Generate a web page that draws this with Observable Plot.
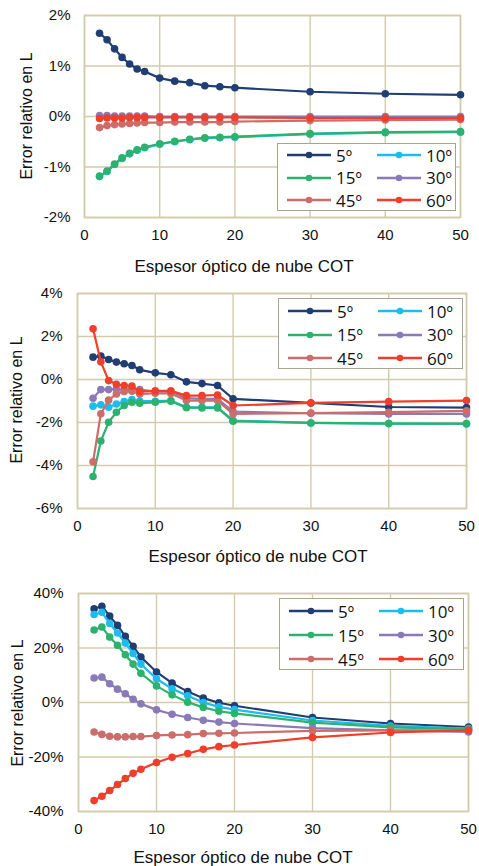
<!DOCTYPE html>
<html>
<head>
<meta charset="utf-8">
<script src="https://cdn.jsdelivr.net/npm/d3@7"></script>
<script src="https://cdn.jsdelivr.net/npm/@observablehq/plot@0.6"></script>
<style>
  html, body { margin: 0; padding: 0; background: #fff; }
  #chart { position: relative; width: 479px; height: 866px; overflow: hidden; font-family: "Liberation Sans", Arial, sans-serif; }
  .panel { position: relative; width: 479px; }
  .panel svg { display: block; }
  .xtitle, .ytitle { position: absolute; color: #111; white-space: nowrap; }
  .xtitle { font-size: 17px; transform: translate(-50%, -50%); }
  .ytitle { font-size: 16px; transform: translate(-50%, -50%) rotate(-90deg); }
  .legend { position: absolute; background: #fff; border: 1.5px solid #aaa48a; box-sizing: border-box; }
  .legend .item { position: absolute; display: flex; align-items: center; font-family: "Open Sans", "Noto Sans", sans-serif; font-size: 17px; color: #111; }
  .legend .item svg { margin-right: 4px; }
</style>
</head>
<body>
<div id="chart"></div>
<script>
// Cloud optical thickness (COT) sampled in every panel
const cot = [2, 3, 4, 5, 6, 7, 8, 10, 12, 14, 16, 18, 20, 30, 40, 50];

// Solar zenith angles and their series colours
const angles = ["5º", "10º", "15º", "30º", "45º", "60º"];
const colors = ["#203e73", "#1cbcef", "#2db26e", "#8a7ab8", "#cc6d69", "#ee3f2a"];

// x-axis ticks
const xTicks = [0, 10, 20, 30, 40, 50];

// Panel 1: relative error in L (%)
const top5  = [1.65, 1.52, 1.34, 1.17, 1.04, 0.94, 0.89, 0.76, 0.70, 0.67, 0.61, 0.59, 0.57, 0.49, 0.45, 0.43];
const top10 = [-1.19, -1.09, -0.95, -0.83, -0.74, -0.67, -0.62, -0.55, -0.50, -0.46, -0.43, -0.42, -0.41, -0.35, -0.32, -0.31];
const top15 = [-1.18, -1.08, -0.94, -0.82, -0.73, -0.66, -0.61, -0.54, -0.49, -0.45, -0.42, -0.41, -0.40, -0.34, -0.31, -0.30];
const top30 = [0.02, 0.02, 0.01, 0.01, 0.01, 0.01, 0.01, 0.00, 0.00, 0.00, 0.00, 0.00, 0.00, 0.00, 0.00, 0.00];
const top45 = [-0.22, -0.18, -0.16, -0.15, -0.14, -0.13, -0.12, -0.12, -0.11, -0.11, -0.11, -0.11, -0.10, -0.08, -0.07, -0.06];
const top60 = [-0.04, -0.03, -0.03, -0.03, -0.02, -0.02, -0.02, -0.02, -0.02, -0.02, -0.02, -0.02, -0.02, -0.03, -0.03, -0.03];
const topTicks = [-2, -1, 0, 1, 2];

// Panel 2: relative error in L (%)
const mid5  = [1.04, 1.09, 0.93, 0.81, 0.73, 0.65, 0.45, 0.31, 0.22, -0.11, -0.19, -0.28, -0.90, -1.09, -1.28, -1.31];
const mid10 = [-1.24, -1.18, -1.29, -1.14, -1.03, -0.93, -1.00, -1.01, -0.98, -1.29, -1.29, -1.29, -1.91, -2.02, -2.05, -2.07];
const mid15 = [-4.51, -2.86, -1.99, -1.52, -1.21, -1.06, -1.10, -1.06, -1.01, -1.31, -1.32, -1.32, -1.94, -2.02, -2.05, -2.05];
const mid30 = [-0.87, -0.47, -0.47, -0.44, -0.48, -0.44, -0.47, -0.56, -0.56, -0.87, -0.90, -0.90, -1.49, -1.57, -1.60, -1.60];
const mid45 = [-3.83, -1.59, -0.96, -0.67, -0.56, -0.55, -0.68, -0.64, -0.65, -0.98, -0.98, -0.98, -1.60, -1.56, -1.52, -1.46];
const mid60 = [2.36, 0.82, -0.05, -0.22, -0.28, -0.31, -0.56, -0.53, -0.53, -0.75, -0.75, -0.72, -1.21, -1.09, -1.03, -0.98];
const midTicks = [-6, -4, -2, 0, 2, 4];

// Panel 3: relative error in L (%)
const low5  = [34.4, 35.3, 31.7, 28.3, 24.3, 20.6, 16.7, 11.2, 7.1, 4.0, 1.6, -0.1, -1.2, -5.5, -7.7, -9.0];
const low10 = [32.3, 33.1, 29.0, 25.5, 21.8, 18.0, 14.1, 8.7, 5.0, 2.5, 0.0, -1.6, -2.6, -6.6, -8.6, -9.6];
const low15 = [26.6, 27.7, 24.0, 21.0, 17.5, 14.1, 10.7, 6.1, 2.8, 0.1, -1.8, -3.2, -4.0, -7.4, -9.1, -9.8];
const low30 = [9.0, 9.3, 6.9, 4.9, 3.2, 1.2, -0.5, -2.7, -4.3, -5.5, -6.5, -7.2, -7.7, -9.4, -10.2, -10.8];
const low45 = [-10.8, -11.7, -12.4, -12.6, -12.6, -12.5, -12.5, -12.1, -11.9, -11.8, -11.4, -11.3, -11.2, -10.4, -10.2, -10.2];
const low60 = [-36.0, -34.4, -32.3, -30.1, -27.9, -26.0, -24.5, -22.0, -20.1, -18.7, -17.2, -16.2, -15.6, -12.8, -11.0, -10.2];
const lowTicks = [-40, -20, 0, 20, 40];

const xTitle = "Espesor óptico de nube COT";
const yTitle = "Error relativo en L";

const GRID = "#d3cbaa";

function rowsOf(seriesList) {
  return seriesList.flatMap((vals, i) => vals.map((v, j) => ({ cot: cot[j], err: v, angle: angles[i] })));
}

function makePanel(cfg) {
  const rows = rowsOf(cfg.series);
  // each series draws its line and markers before the next one, so later series sit on top
  const seriesMarks = angles.flatMap(a => {
    const sub = rows.filter(r => r.angle === a);
    return [
      Plot.line(sub, { x: "cot", y: "err", stroke: "angle", strokeWidth: 2.2 }),
      Plot.dot(sub, { x: "cot", y: "err", fill: "angle", r: 3.8 })
    ];
  });
  const svg = Plot.plot({
    width: 479,
    height: cfg.height,
    marginTop: cfg.m[0], marginRight: cfg.m[1], marginBottom: cfg.m[2], marginLeft: cfg.m[3],
    x: { domain: [0, 50] },
    y: { domain: [cfg.yTicks[0], cfg.yTicks[cfg.yTicks.length - 1]] },
    color: { domain: angles, range: colors },
    style: { fontFamily: "Liberation Sans, Arial, sans-serif", fontSize: "15px", color: "#111", background: "transparent", overflow: "visible" },
    marks: [
      Plot.gridX(xTicks, { stroke: GRID, strokeOpacity: 1, strokeWidth: 1.4 }),
      Plot.gridY(cfg.yTicks, { stroke: GRID, strokeOpacity: 1, strokeWidth: 1.4 }),
      Plot.frame({ stroke: GRID, strokeWidth: 1.6 }),
      Plot.axisX(xTicks, { tickSize: 0, tickPadding: 12, label: null, tickFormat: d => String(d) }),
      Plot.axisY(cfg.yTicks, { tickSize: 0, tickPadding: cfg.yPad, label: null, tickFormat: d => `${d}%` }),
      ...seriesMarks
    ]
  });

  const div = document.createElement("div");
  div.className = "panel";
  div.style.height = cfg.height + "px";
  div.appendChild(svg);

  const xt = document.createElement("div");
  xt.className = "xtitle";
  xt.textContent = xTitle;
  xt.style.left = cfg.xTitlePos[0] + "px";
  xt.style.top = cfg.xTitlePos[1] + "px";
  div.appendChild(xt);

  const yt = document.createElement("div");
  yt.className = "ytitle";
  yt.textContent = yTitle;
  yt.style.left = cfg.yTitlePos[0] + "px";
  yt.style.top = cfg.yTitlePos[1] + "px";
  div.appendChild(yt);

  // legend box: two columns, three rows, in series order
  const lg = document.createElement("div");
  lg.className = "legend";
  const [lx, ly, lw, lh, rowGap, row0] = cfg.legend;
  Object.assign(lg.style, { left: lx + "px", top: ly + "px", width: lw + "px", height: lh + "px" });
  angles.forEach((a, i) => {
    const col = i % 2, row = Math.floor(i / 2);
    const item = document.createElement("div");
    item.className = "item";
    item.style.left = (col === 0 ? 8 : 98) + "px";
    item.style.top = (row0 + row * rowGap - 11) + "px";
    item.style.height = "22px";
    item.innerHTML =
      `<svg width="46" height="10"><line x1="1" y1="5" x2="45" y2="5" stroke="${colors[i]}" stroke-width="2.6"/>` +
      `<circle cx="23" cy="5" r="3.3" fill="${colors[i]}"/></svg><span>${a}</span>`;
    lg.appendChild(item);
  });
  div.appendChild(lg);
  return div;
}

const chart = document.getElementById("chart");
chart.appendChild(makePanel({
  series: [top5, top10, top15, top30, top45, top60],
  yTicks: topTicks, height: 286, m: [15, 19, 69, 84], yPad: 14,
  xTitlePos: [244, 267], yTitlePos: [27, 116],
  legend: [277, 143, 179, 68, 22.5, 11]
}));
chart.appendChild(makePanel({
  series: [mid5, mid10, mid15, mid30, mid45, mid60],
  yTicks: midTicks, height: 290, m: [7, 13, 68, 77], yPad: 15,
  xTitlePos: [258, 271], yTitlePos: [17, 114],
  legend: [278, 12, 185, 71, 23.5, 12]
}));
chart.appendChild(makePanel({
  series: [low5, low10, low15, low30, low45, low60],
  yTicks: lowTicks, height: 290, m: [17, 11, 55, 78], yPad: 15,
  xTitlePos: [243, 282], yTitlePos: [18, 127],
  legend: [279, 22, 185, 72, 24, 12]
}));
</script>
</body>
</html>
